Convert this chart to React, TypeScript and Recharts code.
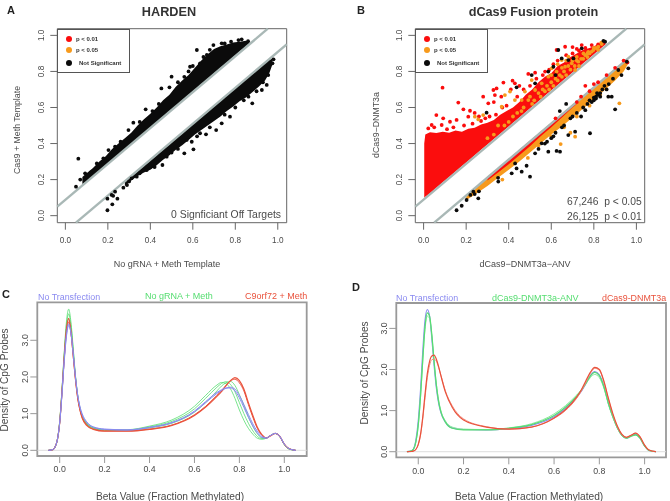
import React from "react";
import { ComposedChart, Area, Line, Scatter, XAxis, YAxis, ReferenceLine, ReferenceArea } from "recharts";

const FONT = "'Liberation Sans', Arial, sans-serif";
const TEXT = "#4a4a4a";
const RED = "#fb0d0d";
const ORANGE = "#f79a1c";
const BLACK = "#0b0b0b";
const LINE_GREY = "#a9b8b6";
const unitTicks = [0, 0.2, 0.4, 0.6, 0.8, 1.0];
const densTicks = [0, 1, 2, 3];

type Band = [number, number, number];
type Pt = [number, number];

// Panel A
const bandAUpper: Band[] = [
  [0.08, 0.175, 0.215], [0.1, 0.19, 0.235], [0.13, 0.22, 0.265], [0.16, 0.25, 0.3], [0.19, 0.28, 0.33],
  [0.22, 0.31, 0.37], [0.25, 0.34, 0.4], [0.28, 0.37, 0.43], [0.31, 0.4, 0.46], [0.34, 0.43, 0.5],
  [0.37, 0.46, 0.535], [0.4, 0.49, 0.565], [0.43, 0.52, 0.6], [0.46, 0.55, 0.64], [0.49, 0.58, 0.67],
  [0.52, 0.61, 0.715], [0.55, 0.64, 0.75], [0.58, 0.67, 0.78], [0.61, 0.7, 0.82], [0.64, 0.73, 0.86],
  [0.67, 0.76, 0.895], [0.7, 0.79, 0.925], [0.73, 0.82, 0.94], [0.76, 0.85, 0.95], [0.79, 0.88, 0.96],
  [0.82, 0.91, 0.965], [0.85, 0.94, 0.97], [0.865, 0.955, 0.965],
];
const bandALower: Band[] = [
  [0.28, 0.165, 0.185], [0.31, 0.195, 0.215], [0.34, 0.22, 0.245], [0.37, 0.24, 0.275], [0.4, 0.255, 0.305],
  [0.43, 0.28, 0.335], [0.46, 0.31, 0.365], [0.49, 0.335, 0.395], [0.52, 0.365, 0.425], [0.55, 0.39, 0.455],
  [0.58, 0.42, 0.485], [0.61, 0.45, 0.515], [0.64, 0.475, 0.545], [0.67, 0.5, 0.575], [0.7, 0.525, 0.605],
  [0.73, 0.55, 0.635], [0.76, 0.58, 0.665], [0.79, 0.605, 0.695], [0.82, 0.635, 0.725], [0.85, 0.655, 0.755],
  [0.88, 0.685, 0.785], [0.91, 0.715, 0.815], [0.94, 0.75, 0.845], [0.96, 0.79, 0.865], [0.975, 0.84, 0.87],
];
const pointsABlack: Pt[] = [
  [0.061, 0.316], [0.05, 0.161], [0.619, 0.919], [0.587, 0.826], [0.5, 0.771], [0.49, 0.712], [0.452, 0.706],
  [0.378, 0.59], [0.32, 0.516], [0.297, 0.475], [0.203, 0.364], [0.179, 0.318], [0.234, 0.383], [0.148, 0.29],
  [0.093, 0.235], [0.58, 0.8], [0.634, 0.845], [0.666, 0.891], [0.697, 0.946], [0.736, 0.956], [0.815, 0.974],
  [0.83, 0.978], [0.12, 0.24], [0.07, 0.2], [0.26, 0.41], [0.35, 0.52], [0.41, 0.58], [0.44, 0.62], [0.53, 0.74],
  [0.56, 0.77], [0.6, 0.83], [0.65, 0.88], [0.68, 0.92], [0.75, 0.955], [0.78, 0.965], [0.86, 0.968],
  [0.198, 0.03], [0.221, 0.063], [0.245, 0.094], [0.198, 0.094], [0.218, 0.115], [0.234, 0.133], [0.273, 0.155],
  [0.312, 0.207], [0.336, 0.216], [0.383, 0.253], [0.457, 0.281], [0.477, 0.327], [0.56, 0.346], [0.603, 0.368],
  [0.571, 0.42], [0.595, 0.41], [0.634, 0.457], [0.662, 0.451], [0.71, 0.475], [0.736, 0.512], [0.775, 0.549],
  [0.88, 0.623], [0.862, 0.66], [0.925, 0.697], [0.948, 0.725], [0.975, 0.845], [0.98, 0.867], [0.225, 0.11],
  [0.29, 0.17], [0.3, 0.19], [0.35, 0.235], [0.4, 0.27], [0.42, 0.27], [0.5, 0.35], [0.53, 0.37], [0.62, 0.44],
  [0.68, 0.49], [0.75, 0.56], [0.8, 0.6], [0.84, 0.64], [0.9, 0.69], [0.93, 0.74], [0.955, 0.78],
];

// Panel B
const bandBRed: Band[] = [
  [0.003, 0.1, 0.4], [0.008, 0.105, 0.45], [0.03, 0.125, 0.463], [0.06, 0.155, 0.458], [0.09, 0.185, 0.466],
  [0.12, 0.215, 0.46], [0.15, 0.245, 0.472], [0.18, 0.275, 0.465], [0.21, 0.305, 0.482], [0.24, 0.335, 0.488],
  [0.27, 0.365, 0.505], [0.3, 0.395, 0.515], [0.33, 0.425, 0.53], [0.36, 0.455, 0.56], [0.39, 0.485, 0.58],
  [0.42, 0.515, 0.6], [0.45, 0.545, 0.63], [0.48, 0.575, 0.67], [0.51, 0.605, 0.7], [0.54, 0.635, 0.74],
  [0.57, 0.665, 0.77], [0.6, 0.695, 0.79], [0.63, 0.725, 0.83], [0.66, 0.755, 0.85], [0.69, 0.785, 0.88],
  [0.72, 0.815, 0.9], [0.75, 0.845, 0.92], [0.78, 0.875, 0.93], [0.81, 0.905, 0.945], [0.84, 0.935, 0.965],
  [0.855, 0.95, 0.97],
];
const bandBOrange: Band[] = [
  [0.2, 0.085, 0.115], [0.25, 0.125, 0.165], [0.3, 0.165, 0.215], [0.35, 0.21, 0.265], [0.4, 0.255, 0.315],
  [0.45, 0.3, 0.365], [0.5, 0.35, 0.415], [0.55, 0.4, 0.465], [0.6, 0.45, 0.515], [0.65, 0.495, 0.565],
  [0.7, 0.545, 0.615], [0.75, 0.595, 0.665], [0.8, 0.645, 0.715], [0.85, 0.695, 0.765], [0.9, 0.75, 0.815],
  [0.94, 0.8, 0.855], [0.96, 0.84, 0.875],
];
const bandBRedLower: Band[] = [
  [0.3, 0.195, 0.215], [0.35, 0.24, 0.265], [0.4, 0.285, 0.315], [0.45, 0.335, 0.365], [0.5, 0.385, 0.415],
  [0.55, 0.44, 0.465], [0.6, 0.49, 0.515], [0.65, 0.545, 0.565], [0.7, 0.6, 0.615], [0.72, 0.62, 0.635],
];
const pointsBRed: Pt[] = [
  [0.089, 0.71], [0.163, 0.627], [0.06, 0.558], [0.092, 0.54], [0.187, 0.59], [0.218, 0.582], [0.28, 0.66],
  [0.328, 0.697], [0.343, 0.706], [0.375, 0.738], [0.418, 0.749], [0.429, 0.734], [0.022, 0.484], [0.038, 0.503],
  [0.085, 0.503], [0.124, 0.521], [0.155, 0.531], [0.21, 0.549], [0.335, 0.669], [0.304, 0.623], [0.492, 0.786],
  [0.524, 0.793], [0.625, 0.919], [0.571, 0.799], [0.665, 0.937], [0.743, 0.946], [0.79, 0.946], [0.24, 0.57],
  [0.26, 0.55], [0.29, 0.54], [0.33, 0.63], [0.365, 0.66], [0.41, 0.7], [0.45, 0.72], [0.7, 0.935], [0.72, 0.925],
  [0.76, 0.93], [0.82, 0.95], [0.05, 0.49], [0.11, 0.48], [0.14, 0.49], [0.19, 0.5], [0.23, 0.51], [0.27, 0.525],
  [0.31, 0.55], [0.34, 0.56], [0.37, 0.6], [0.39, 0.61], [0.44, 0.66], [0.47, 0.7], [0.5, 0.72], [0.53, 0.76],
  [0.56, 0.78], [0.59, 0.81], [0.63, 0.86], [0.67, 0.89], [0.7, 0.9], [0.73, 0.915], [0.61, 0.84],
  [0.76, 0.72], [0.8, 0.73], [0.62, 0.54], [0.82, 0.74], [0.86, 0.78], [0.9, 0.82], [0.94, 0.86], [0.958, 0.85],
  [0.74, 0.66], [0.78, 0.69], [0.72, 0.63],
];
const pointsBOrange: Pt[] = [
  [0.257, 0.534], [0.28, 0.558], [0.241, 0.549], [0.382, 0.669], [0.406, 0.688], [0.367, 0.604], [0.429, 0.641],
  [0.461, 0.641], [0.476, 0.688], [0.508, 0.752], [0.555, 0.734], [0.586, 0.771], [0.602, 0.817], [0.625, 0.799],
  [0.649, 0.863], [0.665, 0.826], [0.68, 0.882], [0.696, 0.845], [0.727, 0.854], [0.751, 0.9], [0.774, 0.909],
  [0.798, 0.919], [0.821, 0.937], [0.837, 0.952], [0.712, 0.808], [0.524, 0.697], [0.492, 0.641], [0.33, 0.45],
  [0.4, 0.52], [0.44, 0.57], [0.47, 0.6], [0.52, 0.64], [0.54, 0.68], [0.56, 0.7], [0.58, 0.72], [0.6, 0.74],
  [0.62, 0.76], [0.64, 0.78], [0.66, 0.8], [0.68, 0.83], [0.7, 0.86], [0.72, 0.88], [0.74, 0.87], [0.76, 0.89],
  [0.78, 0.9], [0.8, 0.93], [0.82, 0.92], [0.63, 0.84], [0.65, 0.82], [0.69, 0.81], [0.73, 0.83], [0.5, 0.66],
  [0.51, 0.62], [0.55, 0.66], [0.57, 0.69], [0.59, 0.7], [0.61, 0.72], [0.63, 0.75], [0.65, 0.77], [0.67, 0.78],
  [0.71, 0.83], [0.75, 0.87], [0.77, 0.88], [0.79, 0.91], [0.81, 0.93], [0.835, 0.96], [0.6, 0.78], [0.67, 0.86],
  [0.72, 0.86], [0.77, 0.9], [0.35, 0.5], [0.46, 0.58], [0.42, 0.55], [0.38, 0.5], [0.3, 0.43],
  [0.92, 0.623], [0.712, 0.438], [0.644, 0.397], [0.69, 0.46], [0.54, 0.39], [0.49, 0.32], [0.37, 0.2],
  [0.72, 0.55], [0.78, 0.61], [0.83, 0.67], [0.6, 0.44], [0.66, 0.49],
];
const pointsBBlack: Pt[] = [
  [0.508, 0.78], [0.524, 0.734], [0.437, 0.712], [0.586, 0.799], [0.61, 0.826], [0.633, 0.919], [0.649, 0.872],
  [0.68, 0.863], [0.704, 0.872], [0.743, 0.928], [0.845, 0.97], [0.853, 0.965], [0.296, 0.571], [0.62, 0.78],
  [0.155, 0.03], [0.179, 0.055], [0.202, 0.087], [0.234, 0.133], [0.257, 0.096], [0.351, 0.189], [0.5, 0.216],
  [0.461, 0.244], [0.484, 0.277], [0.414, 0.235], [0.437, 0.262], [0.524, 0.346], [0.555, 0.401], [0.586, 0.355],
  [0.625, 0.359], [0.641, 0.355], [0.68, 0.447], [0.712, 0.466], [0.782, 0.457], [0.9, 0.59], [0.868, 0.66],
  [0.884, 0.66], [0.915, 0.808], [0.962, 0.817], [0.955, 0.854], [0.74, 0.55], [0.76, 0.585], [0.79, 0.63],
  [0.8, 0.655], [0.815, 0.68], [0.84, 0.7], [0.6, 0.43], [0.57, 0.4], [0.65, 0.49], [0.66, 0.5], [0.69, 0.54],
  [0.72, 0.57], [0.77, 0.62], [0.78, 0.64], [0.81, 0.66], [0.83, 0.68], [0.85, 0.72], [0.89, 0.76], [0.93, 0.78],
  [0.62, 0.46], [0.61, 0.44], [0.58, 0.41], [0.54, 0.37], [0.43, 0.29], [0.35, 0.21], [0.22, 0.115], [0.24, 0.12],
  [0.26, 0.135], [0.7, 0.55], [0.75, 0.6], [0.82, 0.67], [0.87, 0.73], [0.8, 0.64], [0.81, 0.65], [0.83, 0.66],
  [0.86, 0.7], [0.67, 0.62], [0.64, 0.58],
];

// Density grid shared by panels C and D
const betaGrid = [-0.05, -0.03, -0.02, -0.01, 0, 0.01, 0.02, 0.03, 0.04, 0.05, 0.06, 0.07, 0.08, 0.09, 0.1, 0.12, 0.15, 0.2, 0.3, 0.4, 0.5, 0.6, 0.65, 0.7, 0.72, 0.74, 0.76, 0.78, 0.8, 0.82, 0.84, 0.86, 0.88, 0.9, 0.92, 0.94, 0.96, 0.98, 1.0, 1.02, 1.05];

const cBlue1 = [0, 0.02, 0.1, 0.3, 0.75, 1.55, 2.45, 3.15, 3.45, 3.2, 2.65, 2.0, 1.5, 1.17, 0.97, 0.76, 0.63, 0.57, 0.55, 0.62, 0.75, 1.05, 1.3, 1.55, 1.63, 1.69, 1.72, 1.67, 1.5, 1.25, 0.98, 0.72, 0.52, 0.38, 0.34, 0.41, 0.46, 0.38, 0.17, 0.05, 0];
const cBlue2 = [0, 0.02, 0.1, 0.3, 0.75, 1.5, 2.4, 3.1, 3.4, 3.2, 2.65, 2.02, 1.52, 1.2, 1.0, 0.78, 0.64, 0.58, 0.56, 0.63, 0.76, 1.07, 1.33, 1.58, 1.65, 1.7, 1.7, 1.62, 1.43, 1.17, 0.9, 0.66, 0.47, 0.35, 0.33, 0.41, 0.46, 0.38, 0.17, 0.05, 0];
const cGreen1 = [0, 0.02, 0.1, 0.3, 0.8, 1.65, 2.65, 3.5, 3.85, 3.5, 2.8, 2.05, 1.5, 1.15, 0.93, 0.72, 0.6, 0.55, 0.56, 0.66, 0.83, 1.2, 1.5, 1.78, 1.85, 1.82, 1.68, 1.42, 1.1, 0.82, 0.6, 0.44, 0.33, 0.3, 0.33, 0.41, 0.46, 0.37, 0.16, 0.04, 0];
const cGreen2 = [0, 0.02, 0.1, 0.3, 0.78, 1.62, 2.6, 3.4, 3.72, 3.4, 2.75, 2.03, 1.5, 1.15, 0.94, 0.73, 0.61, 0.55, 0.55, 0.64, 0.79, 1.13, 1.42, 1.72, 1.82, 1.87, 1.8, 1.6, 1.3, 1.0, 0.74, 0.53, 0.38, 0.32, 0.33, 0.41, 0.46, 0.37, 0.16, 0.04, 0];
const cGreen3 = [0, 0.02, 0.1, 0.3, 0.76, 1.58, 2.52, 3.3, 3.58, 3.3, 2.68, 2.0, 1.48, 1.14, 0.94, 0.74, 0.62, 0.56, 0.54, 0.61, 0.74, 1.04, 1.3, 1.62, 1.75, 1.84, 1.88, 1.77, 1.52, 1.22, 0.92, 0.65, 0.45, 0.34, 0.33, 0.41, 0.46, 0.37, 0.16, 0.04, 0];
const cRed1 = [0, 0.02, 0.1, 0.3, 0.75, 1.58, 2.52, 3.3, 3.6, 3.25, 2.6, 1.95, 1.43, 1.1, 0.88, 0.68, 0.57, 0.52, 0.52, 0.57, 0.68, 0.95, 1.18, 1.47, 1.6, 1.76, 1.9, 1.98, 1.9, 1.67, 1.3, 0.95, 0.63, 0.43, 0.34, 0.4, 0.46, 0.38, 0.17, 0.05, 0];
const cRed2 = [0, 0.02, 0.1, 0.3, 0.74, 1.55, 2.47, 3.22, 3.5, 3.2, 2.58, 1.95, 1.44, 1.11, 0.9, 0.7, 0.58, 0.53, 0.53, 0.58, 0.69, 0.97, 1.2, 1.5, 1.62, 1.77, 1.89, 1.94, 1.84, 1.62, 1.25, 0.9, 0.6, 0.41, 0.34, 0.4, 0.46, 0.38, 0.17, 0.05, 0];

const dBlue = [0, 0.02, 0.08, 0.3, 0.75, 1.5, 2.45, 3.2, 3.46, 3.3, 2.75, 2.1, 1.55, 1.18, 0.95, 0.72, 0.58, 0.54, 0.53, 0.56, 0.64, 0.85, 1.05, 1.33, 1.47, 1.65, 1.85, 1.95, 1.87, 1.6, 1.18, 0.85, 0.58, 0.4, 0.33, 0.38, 0.42, 0.33, 0.14, 0.03, 0];
const dGreen1 = [0, 0.02, 0.07, 0.25, 0.65, 1.35, 2.25, 3.05, 3.38, 3.3, 2.85, 2.2, 1.62, 1.22, 0.97, 0.72, 0.57, 0.53, 0.53, 0.57, 0.66, 0.88, 1.08, 1.35, 1.49, 1.66, 1.84, 1.93, 1.85, 1.58, 1.18, 0.85, 0.58, 0.4, 0.33, 0.38, 0.41, 0.33, 0.14, 0.03, 0];
const dGreen2 = [0, 0.02, 0.07, 0.25, 0.63, 1.32, 2.2, 2.98, 3.3, 3.24, 2.82, 2.2, 1.65, 1.26, 1.0, 0.75, 0.6, 0.55, 0.54, 0.58, 0.68, 0.92, 1.12, 1.38, 1.5, 1.65, 1.8, 1.88, 1.8, 1.55, 1.15, 0.83, 0.57, 0.39, 0.33, 0.37, 0.4, 0.32, 0.13, 0.03, 0];
const dRed1 = [0, 0.005, 0.02, 0.06, 0.18, 0.42, 0.85, 1.4, 1.9, 2.2, 2.33, 2.35, 2.25, 2.07, 1.85, 1.45, 1.08, 0.77, 0.6, 0.55, 0.6, 0.82, 1.02, 1.33, 1.5, 1.72, 1.93, 2.05, 2.0, 1.72, 1.3, 0.92, 0.62, 0.42, 0.35, 0.4, 0.45, 0.36, 0.16, 0.04, 0];
const dRed2 = [0, 0.005, 0.02, 0.06, 0.17, 0.4, 0.8, 1.32, 1.8, 2.1, 2.24, 2.25, 2.2, 2.05, 1.86, 1.48, 1.12, 0.8, 0.61, 0.55, 0.6, 0.81, 1.0, 1.3, 1.47, 1.68, 1.9, 2.03, 1.98, 1.7, 1.28, 0.9, 0.6, 0.41, 0.35, 0.4, 0.45, 0.36, 0.16, 0.04, 0];

const toBand = (b: Band[]) => b.map(([x, lo, hi]) => ({ x, range: [lo, hi] }));
const toPts = (p: Pt[]) => p.map(([x, y]) => ({ x, y }));
const toCurve = (v: number[]) => betaGrid.map((x, i) => ({ x, y: v[i] }));

const Dot = (r: number) => (props: any) => <circle cx={props.cx} cy={props.cy} r={r} fill={props.fill} />;
const RotTick = (fs: number) => (props: any) => {
  const { x, y, payload } = props;
  return (
    <text x={x} y={y} transform={`rotate(-90 ${x} ${y})`} textAnchor="middle" fontSize={fs} fill={TEXT} fontFamily={FONT}>
      {Number(payload.value).toFixed(1)}
    </text>
  );
};

const T = ({ x, y, children, size = 8, color = TEXT, bold = false, anchor = "middle", rot = 0 }: any) => (
  <div
    style={{
      position: "absolute", left: x, top: y, whiteSpace: "pre", fontFamily: FONT, fontSize: size, color,
      fontWeight: bold ? 700 : 400, lineHeight: 1,
      transform: `translate(${anchor === "middle" ? "-50%" : anchor === "end" ? "-100%" : "0"}, -50%)${rot ? ` rotate(${rot}deg)` : ""}`,
    }}
  >
    {children}
  </div>
);

const ScatterPanel = ({ left, plotL, plotR, xDom, bands, layers, yTitle, xTitle }: any) => {
  const W = 335;
  const H = 270;
  const top = 28.7;
  const bottom = 222.7;
  return (
    <div style={{ position: "absolute", left, top: 0, width: W, height: H }}>
      <ComposedChart width={W} height={H} margin={{ left: 0, top, right: W - plotR, bottom: 0 }}>
        <XAxis dataKey="x" type="number" domain={xDom} ticks={unitTicks} interval={0} allowDataOverflow height={H - bottom}
          tickSize={7} tickMargin={7} axisLine={false} tickLine={{ stroke: "#666" }}
          tick={{ fontSize: 8.2, fill: TEXT, fontFamily: FONT }} tickFormatter={(v: number) => v.toFixed(1)}
          label={{ value: xTitle, position: "insideBottom", offset: 3, dx: -5, fontSize: 9, fill: TEXT, fontFamily: FONT }} />
        <YAxis dataKey="y" type="number" domain={[-0.039, 1.037]} ticks={unitTicks} interval={0} allowDataOverflow width={plotL}
          tickSize={7} tickMargin={6} axisLine={false} tickLine={{ stroke: "#666" }} tick={RotTick(8.2)} />
        {bands.map((b: any, i: number) => (
          <Area key={i} data={toBand(b.data)} dataKey="range" type="linear" stroke="none" fill={b.fill} fillOpacity={1} isAnimationActive={false} dot={false} activeDot={false} />
        ))}
        {layers.map((l: any, i: number) => (
          <Scatter key={i} data={toPts(l.data)} fill={l.fill} shape={Dot(1.9)} isAnimationActive={false} />
        ))}
        <ReferenceLine segment={[{ x: xDom[0], y: 0.05 }, { x: 0.953, y: 1.037 }]} stroke={LINE_GREY} strokeWidth={2.4} ifOverflow="visible" />
        <ReferenceLine segment={[{ x: 0.05, y: -0.039 }, { x: xDom[1], y: 0.95 }]} stroke={LINE_GREY} strokeWidth={2.4} ifOverflow="visible" />
        <ReferenceArea x1={xDom[0]} x2={xDom[1]} y1={-0.039} y2={1.037} fill="none" stroke="#666" strokeWidth={1} ifOverflow="visible" />
      </ComposedChart>
      <T x={yTitle.x} y={yTitle.y} size={8.8} rot={-90}>{yTitle.text}</T>
    </div>
  );
};

const PanelLegend = ({ x }: { x: number }) => (
  <>
    <div style={{ position: "absolute", left: x, top: 28.7, width: 72.5, height: 44.5, border: "1px solid #555", boxSizing: "border-box", background: "#fff" }} />
    {[{ c: RED, t: "p < 0.01", y: 39 }, { c: ORANGE, t: "p < 0.05", y: 50.3 }, { c: BLACK, t: "Not Significant", y: 62.7 }].map((r, i) => (
      <React.Fragment key={r.t}>
        <div style={{ position: "absolute", left: x + 8.5, top: r.y - 3.2, width: 6.4, height: 6.4, borderRadius: 3.2, background: r.c }} />
        <T x={x + (i === 2 ? 21.7 : 18.7)} y={r.y} size={6} bold anchor="start" color="#333">{r.t}</T>
      </React.Fragment>
    ))}
  </>
);

const DensityPanel = ({ left, top, W, H, plotL, plotR, plotT, plotB, xDom, yDom, curves, yTicks, boxColor }: any) => (
  <div style={{ position: "absolute", left, top, width: W, height: H }}>
    <ComposedChart width={W} height={H} margin={{ left: 0, top: plotT, right: W - plotR, bottom: 0 }}>
      <XAxis dataKey="x" type="number" domain={xDom} ticks={unitTicks} interval={0} allowDataOverflow height={H - plotB}
        tickSize={7} tickMargin={3} axisLine={false} tickLine={{ stroke: boxColor }}
        tick={{ fontSize: 8.8, fill: TEXT, fontFamily: FONT }} tickFormatter={(v: number) => v.toFixed(1)}
        label={{ value: "Beta Value (Fraction Methylated)", position: "insideBottom", offset: 1, dx: -2, fontSize: 10.2, fill: TEXT, fontFamily: FONT }} />
      <YAxis dataKey="y" type="number" domain={yDom} ticks={yTicks} interval={0} allowDataOverflow width={plotL}
        tickSize={7} tickMargin={2.5} axisLine={false} tickLine={{ stroke: boxColor }} tick={RotTick(8.8)} />
      <ReferenceLine y={0} stroke="#dedede" strokeWidth={1} />
      {curves.map((c: any, i: number) => (
        <Line key={i} data={toCurve(c.v)} dataKey="y" type="monotone" stroke={c.color} strokeWidth={c.w} dot={false} activeDot={false} isAnimationActive={false} />
      ))}
      <ReferenceArea x1={xDom[0]} x2={xDom[1]} y1={yDom[0]} y2={yDom[1]} fill="none" stroke={boxColor} strokeWidth={1.8} ifOverflow="visible" />
    </ComposedChart>
  </div>
);

const BLUE = "#8a8af0";
const GREEN = "#55dd70";
const ORED = "#e9523c";

export default function App() {
  return (
    <div style={{ position: "absolute", left: 0, top: 0, width: 670, height: 501, background: "#fff", overflow: "hidden", filter: "blur(0.3px)" }}>
      <ScatterPanel left={0} plotL={57.3} plotR={286.7} xDom={[-0.038, 1.042]}
        bands={[{ data: bandAUpper, fill: BLACK }, { data: bandALower, fill: BLACK }]}
        layers={[{ data: pointsABlack, fill: BLACK }]}
        yTitle={{ x: 17, y: 130, text: "Cas9 + Meth Template" }} xTitle="No gRNA + Meth Template" />
      <ScatterPanel left={335} plotL={80.3} plotR={309.7} xDom={[-0.039, 1.039]}
        bands={[{ data: bandBRed, fill: RED }, { data: bandBOrange, fill: ORANGE }, { data: bandBRedLower, fill: RED }]}
        layers={[{ data: pointsBRed, fill: RED }, { data: pointsBOrange, fill: ORANGE }, { data: pointsBBlack, fill: BLACK }]}
        yTitle={{ x: 41, y: 125, text: "dCas9\u2212DNMT3a" }} xTitle={"dCas9\u2212DNMT3a\u2212ANV"} />
      <PanelLegend x={57.3} />
      <PanelLegend x={415.3} />
      <T x={7} y={10} size={11} bold anchor="start" color="#222">A</T>
      <T x={357} y={9.5} size={11} bold anchor="start" color="#222">B</T>
      <T x={169} y={12} size={12.7} bold color="#333">HARDEN</T>
      <T x={533.5} y={12} size={12.7} bold color="#333">dCas9 Fusion protein</T>
      <T x={281} y={215} size={10.4} anchor="end">0 Signficiant Off Targets</T>
      <T x={641.7} y={202} size={10.3} anchor="end">{"67,246  p < 0.05"}</T>
      <T x={641.7} y={216.7} size={10.3} anchor="end">{"26,125  p < 0.01"}</T>

      <DensityPanel left={0} top={275} W={335} H={226} plotL={37.3} plotR={306.7} plotT={27.3} plotB={181} xDom={[-0.0997, 1.0997]} yDom={[-0.155, 4.036]} yTicks={densTicks} boxColor="#999"
        curves={[
          { v: cGreen1, color: GREEN, w: 0.8 }, { v: cGreen2, color: GREEN, w: 0.8 }, { v: cGreen3, color: GREEN, w: 0.8 },
          { v: cRed2, color: ORED, w: 1 }, { v: cRed1, color: ORED, w: 1.2 },
          { v: cBlue2, color: BLUE, w: 1 }, { v: cBlue1, color: BLUE, w: 1 },
        ]} />
      <DensityPanel left={335} top={275} W={335} H={226} plotL={61.3} plotR={331} plotT={28} plotB={182.3} xDom={[-0.097, 1.0945]} yDom={[-0.136, 3.618]} yTicks={densTicks} boxColor="#999"
        curves={[
          { v: dBlue, color: BLUE, w: 1.2 },
          { v: dGreen2, color: "#8de8a0", w: 1 }, { v: dGreen1, color: GREEN, w: 1.2 },
          { v: dRed2, color: "#f09080", w: 1 }, { v: dRed1, color: ORED, w: 1.2 },
        ]} />
      <T x={2} y={294} size={11} bold anchor="start" color="#222">C</T>
      <T x={352} y={287} size={11} bold anchor="start" color="#222">D</T>
      <T x={38} y={296.7} size={8.9} anchor="start" color={BLUE}>No Transfection</T>
      <T x={145} y={296.3} size={9} anchor="start" color={GREEN}>No gRNA + Meth</T>
      <T x={245} y={296.3} size={9} anchor="start" color={ORED}>C9orf72 + Meth</T>
      <T x={396} y={297.7} size={8.9} anchor="start" color={BLUE}>No Transfection</T>
      <T x={492} y={297.7} size={9} anchor="start" color={GREEN}>{"dCas9-DNMT3a-ANV"}</T>
      <T x={602} y={297.7} size={8.9} anchor="start" color={ORED}>dCas9-DNMT3a</T>
      <T x={5} y={380} size={10.1} rot={-90}>Density of CpG Probes</T>
      <T x={365} y={373} size={10.1} rot={-90}>Density of CpG Probes</T>
    </div>
  );
}
